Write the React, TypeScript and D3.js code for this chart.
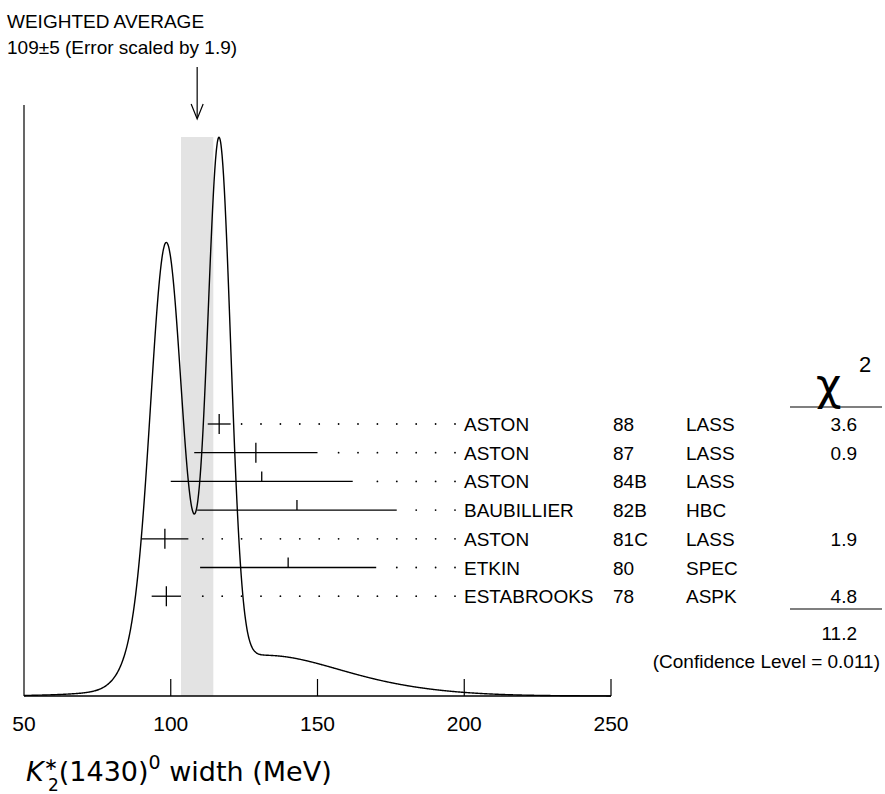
import * as d3 from "d3";

const names = ["ASTON", "ASTON", "ASTON", "BAUBILLIER", "ASTON", "ETKIN", "ESTABROOKS"];
const years = ["88", "87", "84B", "82B", "81C", "80", "78"];
const expts = ["LASS", "LASS", "LASS", "HBC", "LASS", "SPEC", "ASPK"];
const values = [116.5, 129, 131, 143, 98, 140, 98.5];
const errors = [3.9, 21, 31, 34, 8, 30, 5];
const used = [true, true, false, false, true, false, true];
const chi2 = ["3.6", "0.9", "", "", "1.9", "", "4.8"];
const avg = 109;
const avgErr = 5.5;
const ticks = [50, 100, 150, 200, 250];

const W = 885, H = 794;
const x = d3.scaleLinear().domain([50, 250]).range([24, 611]);
const rowY = (i: number) => 424 + i * 28.7;

// ideogram: one Gaussian per measurement, area proportional to 1/sigma
function ideogram() {
  const xs = d3.range(50, 250.01, 0.25);
  return xs.map((v) => [
    v,
    values.reduce((s, m, i) => s + Math.exp(-0.5 * ((v - m) / errors[i]) ** 2) / errors[i] ** 2, 0),
  ] as [number, number]);
}

export default function App() {
  const pts = ideogram();
  const y = d3.scaleLinear().domain([0, d3.max(pts, (d) => d[1])!]).range([696, 137]);
  const line = d3.line<[number, number]>().x((d) => x(d[0])).y((d) => y(d[1])).curve(d3.curveBasis);
  const font = "Liberation Sans, Arial, sans-serif";
  return (
    <svg width={W} height={H} style={{ position: "absolute", left: 0, top: 0, background: "#fff" }} fontFamily={font} fontSize={19}>
      <rect x={x(avg - avgErr)} y={137} width={x(avg + avgErr) - x(avg - avgErr)} height={696 - 137} fill="#e3e3e3" />
      <path d={line(pts)!} fill="none" stroke="#000" strokeWidth={1.4} />
      <line x1={24} x2={24} y1={105} y2={696} stroke="#000" strokeWidth={1.2} />
      <line x1={24} x2={611} y1={696} y2={696} stroke="#000" strokeWidth={1.6} />
      {ticks.map((t) => (
        <g key={t}>
          {t > 50 && <line x1={x(t)} x2={x(t)} y1={696} y2={679} stroke="#000" strokeWidth={1.2} />}
          <text x={x(t)} y={731} textAnchor="middle" fontSize={21}>{t}</text>
        </g>
      ))}
      <text x={7} y={28}>WEIGHTED AVERAGE</text>
      <text x={7} y={54}>109±5 (Error scaled by 1.9)</text>
      <line x1={x(avg)} x2={x(avg)} y1={67} y2={118} stroke="#000" strokeWidth={1.2} />
      <path d={`M${x(avg) - 6},${104} L${x(avg)},${119} L${x(avg) + 6},${104}`} fill="none" stroke="#000" strokeWidth={1.2} />
      {values.map((v, i) => {
        const yy = rowY(i);
        const hi = x(v + errors[i]);
        const dots = d3.range(455, hi + 10, -19.4);
        return (
          <g key={i}>
            <line x1={x(v - errors[i])} x2={hi} y1={yy} y2={yy} stroke="#000" strokeWidth={1.3} />
            <line x1={x(v)} x2={x(v)} y1={yy - 10} y2={used[i] ? yy + 10 : yy} stroke="#000" strokeWidth={1.3} />
            {dots.map((d) => <circle key={d} cx={d} cy={yy} r={0.9} fill="#000" />)}
            <text x={464} y={yy + 7}>{names[i]}</text>
            <text x={613} y={yy + 7}>{years[i]}</text>
            <text x={686} y={yy + 7}>{expts[i]}</text>
            <text x={857} y={yy + 7} textAnchor="end">{chi2[i]}</text>
          </g>
        );
      })}
      <text x={816} y={400} fontSize={44} fontFamily="DejaVu Sans, sans-serif">χ</text>
      <text x={859} y={372} fontSize={22}>2</text>
      <line x1={790} x2={882} y1={407} y2={407} stroke="#000" strokeWidth={1.2} />
      <line x1={790} x2={882} y1={609} y2={609} stroke="#000" strokeWidth={1.2} />
      <text x={857} y={640} textAnchor="end">11.2</text>
      <text x={880} y={668} textAnchor="end">(Confidence Level = 0.011)</text>
      <text x={26} y={781} fontFamily="DejaVu Sans, sans-serif" fontSize={27}>
        <tspan fontStyle="italic">K</tspan>
        <tspan fontSize={17} dy={-11}>∗</tspan>
        <tspan fontSize={17} dx={-10} dy={21}>2</tspan>
        <tspan dy={-10}>(1430)</tspan>
        <tspan fontSize={19} dy={-12}>0</tspan>
        <tspan dy={12}> width (MeV)</tspan>
      </text>
    </svg>
  );
}
